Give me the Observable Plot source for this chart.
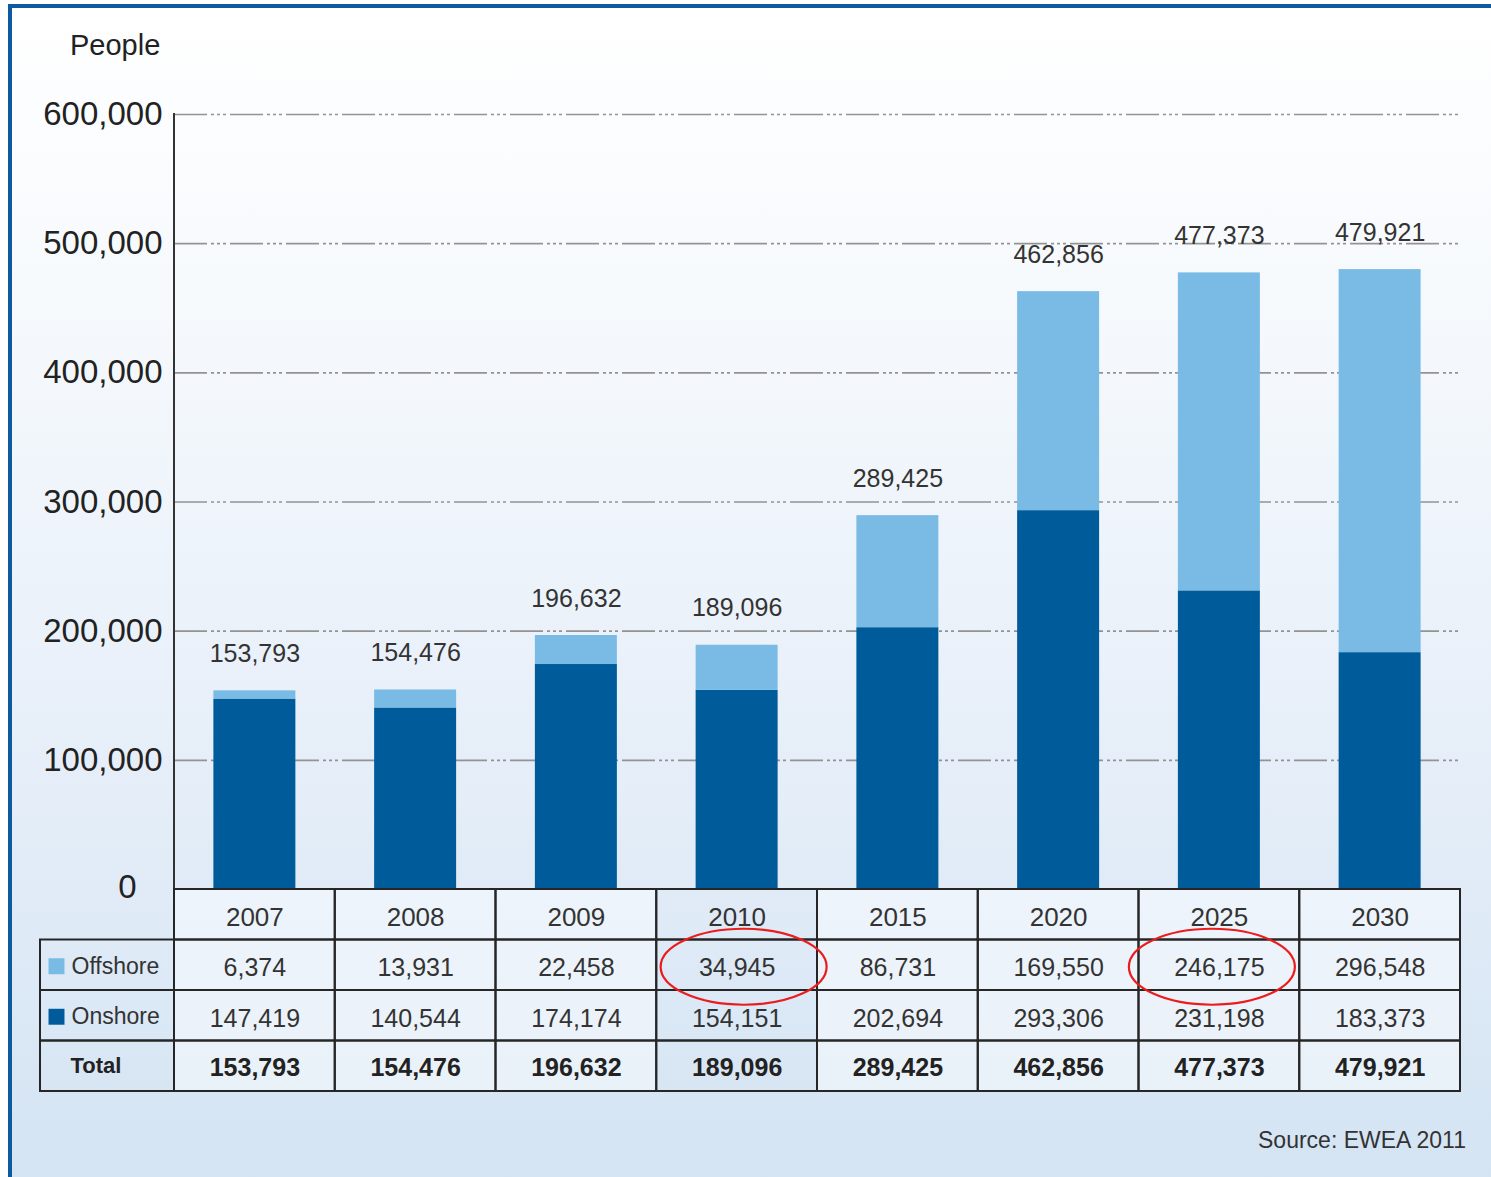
<!DOCTYPE html>
<html>
<head>
<meta charset="utf-8">
<script src="https://cdn.jsdelivr.net/npm/d3@7"></script>
<script src="https://cdn.jsdelivr.net/npm/@observablehq/plot@0.6"></script>
<style>
  html, body { margin: 0; padding: 0; background: #ffffff; }
  #page { position: relative; width: 1491px; height: 1177px; overflow: hidden; font-family: "Liberation Sans", Arial, sans-serif; background: #ffffff; }
  #bg { position: absolute; left: 12px; top: 8px; right: 0; bottom: 0;
        background: linear-gradient(to bottom, #ffffff 0%, #f4f8fc 30%, #e7eff9 62%, #d4e4f3 100%); }
  #bTop { position: absolute; left: 8px; top: 4px; right: 0; height: 4px; background: #0d5a9e; }
  #bLeft { position: absolute; left: 8px; top: 4px; width: 4px; bottom: 0; background: #0d5a9e; }
  #people { position: absolute; left: 70px; top: 29px; font-size: 29px; color: #222; }
  #source { position: absolute; right: 25px; top: 1127px; font-size: 23px; color: #333; }
  #chart { position: absolute; left: 0; top: 0; }
  #table { position: absolute; left: 0; top: 880px; }
  svg { overflow: visible; }
</style>
</head>
<body>
<div id="page">
  <div id="bg"></div>
  <div id="bTop"></div>
  <div id="bLeft"></div>
  <div id="chart"></div>
  <div id="table"></div>
  <div id="people">People</div>
  <div id="source">Source: EWEA 2011</div>
</div>
<script>
// ---- data ----
const years = ["2007", "2008", "2009", "2010", "2015", "2020", "2025", "2030"];
const offshore = [6374, 13931, 22458, 34945, 86731, 169550, 246175, 296548];
const onshore = [147419, 140544, 174174, 154151, 202694, 293306, 231198, 183373];
const totals = [153793, 154476, 196632, 189096, 289425, 462856, 477373, 479921];
const yTicks = [100000, 200000, 300000, 400000, 500000, 600000];
const rowLabels = ["Offshore", "Onshore", "Total"];
const highlighted = [{year: "2010", row: 1}, {year: "2025", row: 1}];

const fmt = d3.format(",");
const DARK = "#005b9b", LIGHT = "#7abbe5";
const FONT = "Liberation Sans, Arial, sans-serif";

const stacked = years.flatMap((y, i) => [
  {year: y, type: "Onshore", value: onshore[i]},
  {year: y, type: "Offshore", value: offshore[i]}
]);
const totalRows = years.map((y, i) => ({year: y, total: totals[i]}));

// y axis line drawn from the plot's dimensions
const axisLine = (index, scales, values, dim) => {
  const g = d3.create("svg:g");
  g.append("line")
    .attr("x1", dim.marginLeft).attr("x2", dim.marginLeft)
    .attr("y1", dim.marginTop - 1).attr("y2", dim.height - dim.marginBottom)
    .attr("stroke", "#333").attr("stroke-width", 2);
  return g.node();
};

const chart = Plot.plot({
  width: 1491, height: 910,
  marginLeft: 174, marginRight: 31, marginTop: 114, marginBottom: 21,
  style: {background: "transparent", overflow: "visible", fontFamily: FONT},
  x: {type: "band", domain: years, paddingInner: 0.49, paddingOuter: 0.245, round: false, axis: null},
  y: {domain: [0, 600000], axis: null},
  color: {domain: ["Onshore", "Offshore"], range: [DARK, LIGHT]},
  marks: [
    Plot.ruleY(yTicks, {stroke: "#939393", strokeWidth: 1.6, strokeDasharray: "33,4,3,3,3,3,3,4"}),
    Plot.barY(stacked, {x: "year", y: "value", fill: "type"}),
    Plot.text(totalRows, {x: "year", y: "total", text: d => fmt(d.total), dy: -37, fontSize: 25, fill: "#333"}),
    Plot.text(yTicks, {y: d => d, text: d => fmt(d), frameAnchor: "left", dx: -12, textAnchor: "end", fontSize: 33, fill: "#222"}),
    Plot.text([0], {y: d => d, text: d => fmt(d), frameAnchor: "left", dx: -47, dy: -2, textAnchor: "middle", fontSize: 33, fill: "#222"}),
    axisLine
  ]
});
document.getElementById("chart").appendChild(chart);

// ---- table (columns share the chart's column width) ----
const labelW = 0.8336; // label column width in column units
const cells = [];
years.forEach((y, i) => {
  for (let r = 0; r < 4; r++) cells.push({x1: i, x2: i + 1, y1: r, y2: r + 1, shade: y !== "2010"});
});
for (let r = 1; r < 4; r++) cells.push({x1: -labelW, x2: 0, y1: r, y2: r + 1, shade: false});

const tableText = [];
years.forEach((y, i) => {
  tableText.push({x: i + 0.5, y: 0.5, t: y, bold: false, size: 26});
  tableText.push({x: i + 0.5, y: 1.5, t: fmt(offshore[i]), bold: false, size: 25});
  tableText.push({x: i + 0.5, y: 2.5, t: fmt(onshore[i]), bold: false, size: 25});
  tableText.push({x: i + 0.5, y: 3.5, t: fmt(totals[i]), bold: true, size: 25});
});

const ellipses = (index, scales) => {
  const g = d3.create("svg:g");
  highlighted.forEach(h => {
    const i = years.indexOf(h.year);
    const shift = i < years.length / 2 ? 7 : -7;
    g.append("ellipse")
      .attr("cx", scales.x(i + 0.5) + shift).attr("cy", scales.y(h.row + 0.5) + 2)
      .attr("rx", 83).attr("ry", 38)
      .attr("fill", "none").attr("stroke", "#ec1c1c").attr("stroke-width", 2.2);
  });
  return g.node();
};

const table = Plot.plot({
  width: 1491, height: 220,
  marginLeft: 40, marginRight: 31, marginTop: 9, marginBottom: 9,
  style: {background: "transparent", overflow: "visible", fontFamily: FONT},
  x: {domain: [-labelW, years.length], axis: null},
  y: {domain: [0, 4], reverse: true, axis: null},
  marks: [
    Plot.rect(cells.filter(d => d.shade), {x1: "x1", x2: "x2", y1: "y1", y2: "y2", fill: "#ffffff", fillOpacity: 0.45}),
    Plot.rect(cells, {x1: "x1", x2: "x2", y1: "y1", y2: "y2", fill: "none", stroke: "#262626", strokeWidth: 2}),
    Plot.text(tableText.filter(d => !d.bold), {x: "x", y: "y", text: "t", dy: 3, fontSize: d => d.size, fill: "#333"}),
    Plot.text(tableText.filter(d => d.bold), {x: "x", y: "y", text: "t", dy: 2, fontSize: 25, fontWeight: "bold", fill: "#222"}),
    Plot.dot(rowLabels.slice(0, 2), {x: () => -labelW, y: (d, i) => i + 1.5, dx: 16, dy: 1, symbol: "square", r: 9, fill: (d, i) => i === 0 ? LIGHT : DARK, stroke: null}),
    Plot.text(rowLabels.slice(0, 2), {x: () => -labelW, y: (d, i) => i + 1.5, dx: 31, dy: 1, text: d => d, textAnchor: "start", fontSize: 23, fill: "#333"}),
    Plot.text(rowLabels.slice(2), {x: () => -labelW, y: () => 3.5, dx: 30, dy: 0, text: d => d, textAnchor: "start", fontSize: 22, fontWeight: "bold", fill: "#222"}),
    ellipses
  ]
});
document.getElementById("table").appendChild(table);
</script>
</body>
</html>
